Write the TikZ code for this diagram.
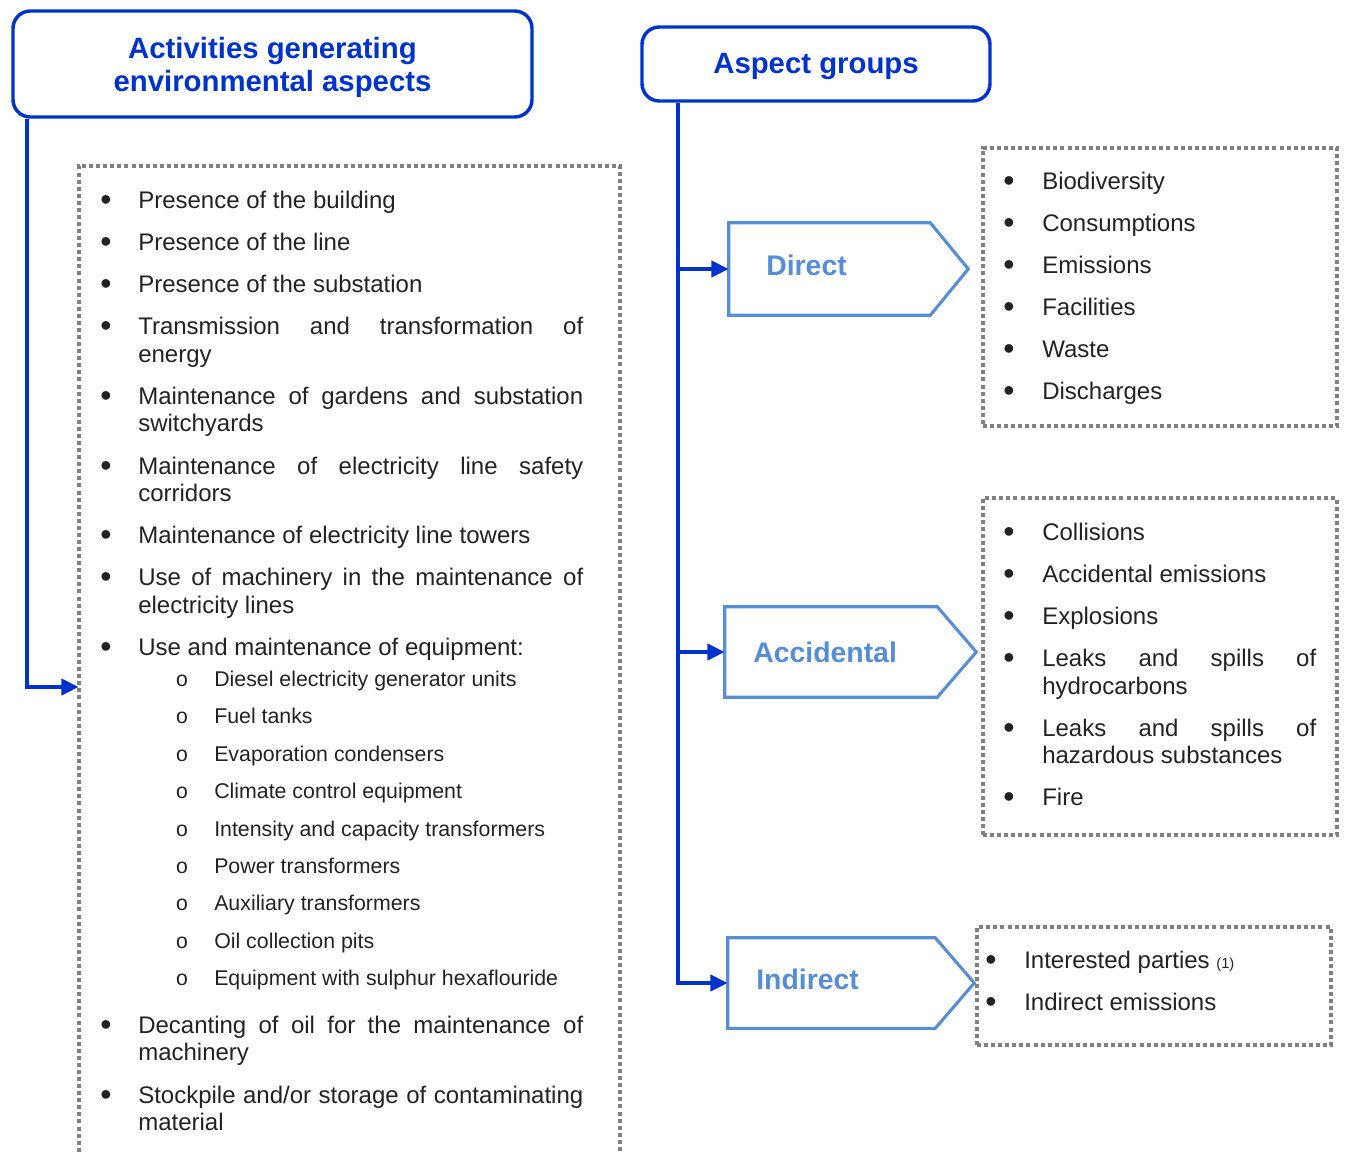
\documentclass[tikz,border=0pt]{standalone}
\usepackage{fontspec}
\setmainfont{Liberation Sans}
\newfontfamily\monofam{Liberation Mono}
\usetikzlibrary{arrows.meta,calc}
\definecolor{hdrblue}{HTML}{0033CC}
\definecolor{pentblue}{HTML}{558ED5}
\definecolor{dotgray}{HTML}{808080}
\definecolor{txt}{HTML}{222222}
% a line stretched to the full justified width
\newcommand\jline[2]{\makebox[#1][s]{#2}}
\begin{document}
\begin{tikzpicture}[x=0.75pt,y=-0.75pt,
  hdr/.style={draw=hdrblue, line width=2.6pt, rounded corners=13pt, inner sep=0pt},
  hdrtext/.style={text=hdrblue, font=\fontsize{22}{24.75}\selectfont\bfseries, align=center, inner sep=0pt},
  conn/.style={draw=hdrblue, line width=3pt, -{Triangle[length=13pt,width=12pt]}},
  pentbox/.style={draw=none, inner sep=0pt},
  pent/.style={draw=pentblue, line width=2.3pt, line join=miter},
  plabel/.style={text=pentblue, font=\fontsize{21.3}{24}\selectfont\bfseries, anchor=base west, inner sep=0pt},
  dotbox/.style={draw=dotgray, line width=3pt, dash pattern=on 3pt off 2.3pt},
  item/.style={anchor=base west, inner sep=0pt, text=txt, font=\fontsize{18}{21}\selectfont},
  subitem/.style={item, font=\fontsize{16}{19}\selectfont},
  bul/.style={anchor=center, inner sep=0pt, text=txt, font=\fontsize{24}{26}\selectfont},
  subbul/.style={anchor=base, inner sep=0pt, text=txt, font=\monofam\fontsize{16}{19}\selectfont}]
\useasboundingbox (0,0) rectangle (1348,1153);

% ---------- headers ----------
\node[hdr, minimum width=389.25pt, minimum height=79.5pt] (act) at (272.5,64) {};
\node[hdrtext] (acttext) at (272.5,67) {Activities generating\\environmental aspects};
\node[hdr, minimum width=261pt, minimum height=55.5pt] (asp) at (816,64) {};
\node[hdrtext] (asptext) at (816,66.5) {Aspect groups};

% ---------- activities list box (open at the bottom) ----------
\node[draw=none, minimum width=405.75pt, minimum height=781.5pt] (actbox) at (349.5,687) {};
\draw[dotbox] (actbox.south west) -- (actbox.north west) -- (actbox.north east) -- (actbox.south east);

\coordinate (drop) at ($(act.south west)+(16,0)$);
\draw[conn] (drop) |- (actbox.west);

% bullets
\foreach \y [count=\i] in {208.5,250.5,292.5,334.5,404.5,474.5,543.5,585.5,655.5,1033.5,1103.5}
  \node[bul] (lb\i) at (106,\y-5) {•};
\foreach \y [count=\i] in {686.5,723.5,761.5,798.5,836.5,873.5,910.5,948.5,985.5}
  \node[subbul] (sb\i) at (182,\y) {o};

% items
\node[item] (li1) at (138,208.5) {Presence of the building};
\node[item] (li2) at (138,250.5) {Presence of the line};
\node[item] (li3) at (138,292.5) {Presence of the substation};
\node[item] (li4a) at (138,334.5) {\jline{333.75pt}{Transmission and transformation of}};
\node[item] (li4b) at (138,362.5) {energy};
\node[item] (li5a) at (138,404.5) {\jline{333.75pt}{Maintenance of gardens and substation}};
\node[item] (li5b) at (138,431.5) {switchyards};
\node[item] (li6a) at (138,474.5) {\jline{333.75pt}{Maintenance of electricity line safety}};
\node[item] (li6b) at (138,501.5) {corridors};
\node[item] (li7) at (138,543.5) {Maintenance of electricity line towers};
\node[item] (li8a) at (138,585.5) {\jline{333.75pt}{Use of machinery in the maintenance of}};
\node[item] (li8b) at (138,613.5) {electricity lines};
\node[item] (li9) at (138,655.5) {Use and maintenance of equipment:};
\node[subitem] (si1) at (214,686.5) {Diesel electricity generator units};
\node[subitem] (si2) at (214,723.5) {Fuel tanks};
\node[subitem] (si3) at (214,761.5) {Evaporation condensers};
\node[subitem] (si4) at (214,798.5) {Climate control equipment};
\node[subitem] (si5) at (214,836.5) {Intensity and capacity transformers};
\node[subitem] (si6) at (214,873.5) {Power transformers};
\node[subitem] (si7) at (214,910.5) {Auxiliary transformers};
\node[subitem] (si8) at (214,948.5) {Oil collection pits};
\node[subitem] (si9) at (214,985.5) {Equipment with sulphur hexaflouride};
\node[item] (li10a) at (138,1033.5) {\jline{333.75pt}{Decanting of oil for the maintenance of}};
\node[item] (li10b) at (138,1060.5) {machinery};
\node[item] (li11a) at (138,1103.5) {\jline{333.75pt}{Stockpile and/or storage of contaminating}};
\node[item] (li11b) at (138,1130.5) {material};

% ---------- aspect group arrows ----------
\node[pentbox, minimum width=150.75pt, minimum height=69pt] (direct) at (829.5,269) {};
\node[pentbox, minimum width=159pt, minimum height=67.5pt] (accid) at (831,652) {};
\node[pentbox, minimum width=155.25pt, minimum height=67.5pt] (indir) at (831.5,983) {};
\draw[pent] (direct.north west) -- (direct.north east) -- ($(direct.east)+(38,0)$)
  -- (direct.south east) -- (direct.south west) -- cycle;
\draw[pent] (accid.north west) -- (accid.north east) -- ($(accid.east)+(39,0)$)
  -- (accid.south east) -- (accid.south west) -- cycle;
\draw[pent] (indir.north west) -- (indir.north east) -- ($(indir.east)+(39,0)$)
  -- (indir.south east) -- (indir.south west) -- cycle;
\node[plabel] (directlbl) at (766,275.5) {Direct};
\node[plabel] (accidlbl) at (753,662.5) {Accidental};
\node[plabel] (indirlbl) at (756,989.5) {Indirect};

\coordinate (trunk) at ($(asp.south west)+(38,0)$);
\draw[conn] (trunk) |- (indir.west);
\draw[conn] (trunk |- direct.west) -- (direct.west);
\draw[conn] (trunk |- accid.west) -- (accid.west);

% ---------- aspect lists ----------
\node[dotbox, minimum width=265.5pt, minimum height=208.5pt] (dbox) at (1160,287) {};
\node[dotbox, minimum width=265.5pt, minimum height=252.75pt] (abox) at (1160,666.5) {};
\node[dotbox, minimum width=265.5pt, minimum height=88.5pt] (ibox) at (1154,986) {};

\foreach \t [count=\i] in {Biodiversity,Consumptions,Emissions,Facilities,Waste,Discharges} {
  \node[bul] (db\i) at (1009,{184.5+42*(\i-1)}) {•};
  \node[item] (dt\i) at (1042,{189.5+42*(\i-1)}) {\t};
}

\foreach \y [count=\i] in {540.5,582.5,624.5,666.5,736.5,805.5}
  \node[bul] (ab\i) at (1009,\y-5) {•};
\node[item] (at1) at (1042,540.5) {Collisions};
\node[item] (at2) at (1042,582.5) {Accidental emissions};
\node[item] (at3) at (1042,624.5) {Explosions};
\node[item] (at4a) at (1042,666.5) {\jline{205.5pt}{Leaks and spills of}};
\node[item] (at4b) at (1042,694.5) {hydrocarbons};
\node[item] (at5a) at (1042,736.5) {\jline{205.5pt}{Leaks and spills of}};
\node[item] (at5b) at (1042,763.5) {hazardous substances};
\node[item] (at6) at (1042,805.5) {Fire};

\node[bul] (ib1) at (991,963.5) {•};
\node[bul] (ib2) at (991,1005.5) {•};
\node[item] (it1) at (1024,968.5) {Interested parties {\fontsize{11}{13}\selectfont(1)}};
\node[item] (it2) at (1024,1010.5) {Indirect emissions};
\end{tikzpicture}
\end{document}
